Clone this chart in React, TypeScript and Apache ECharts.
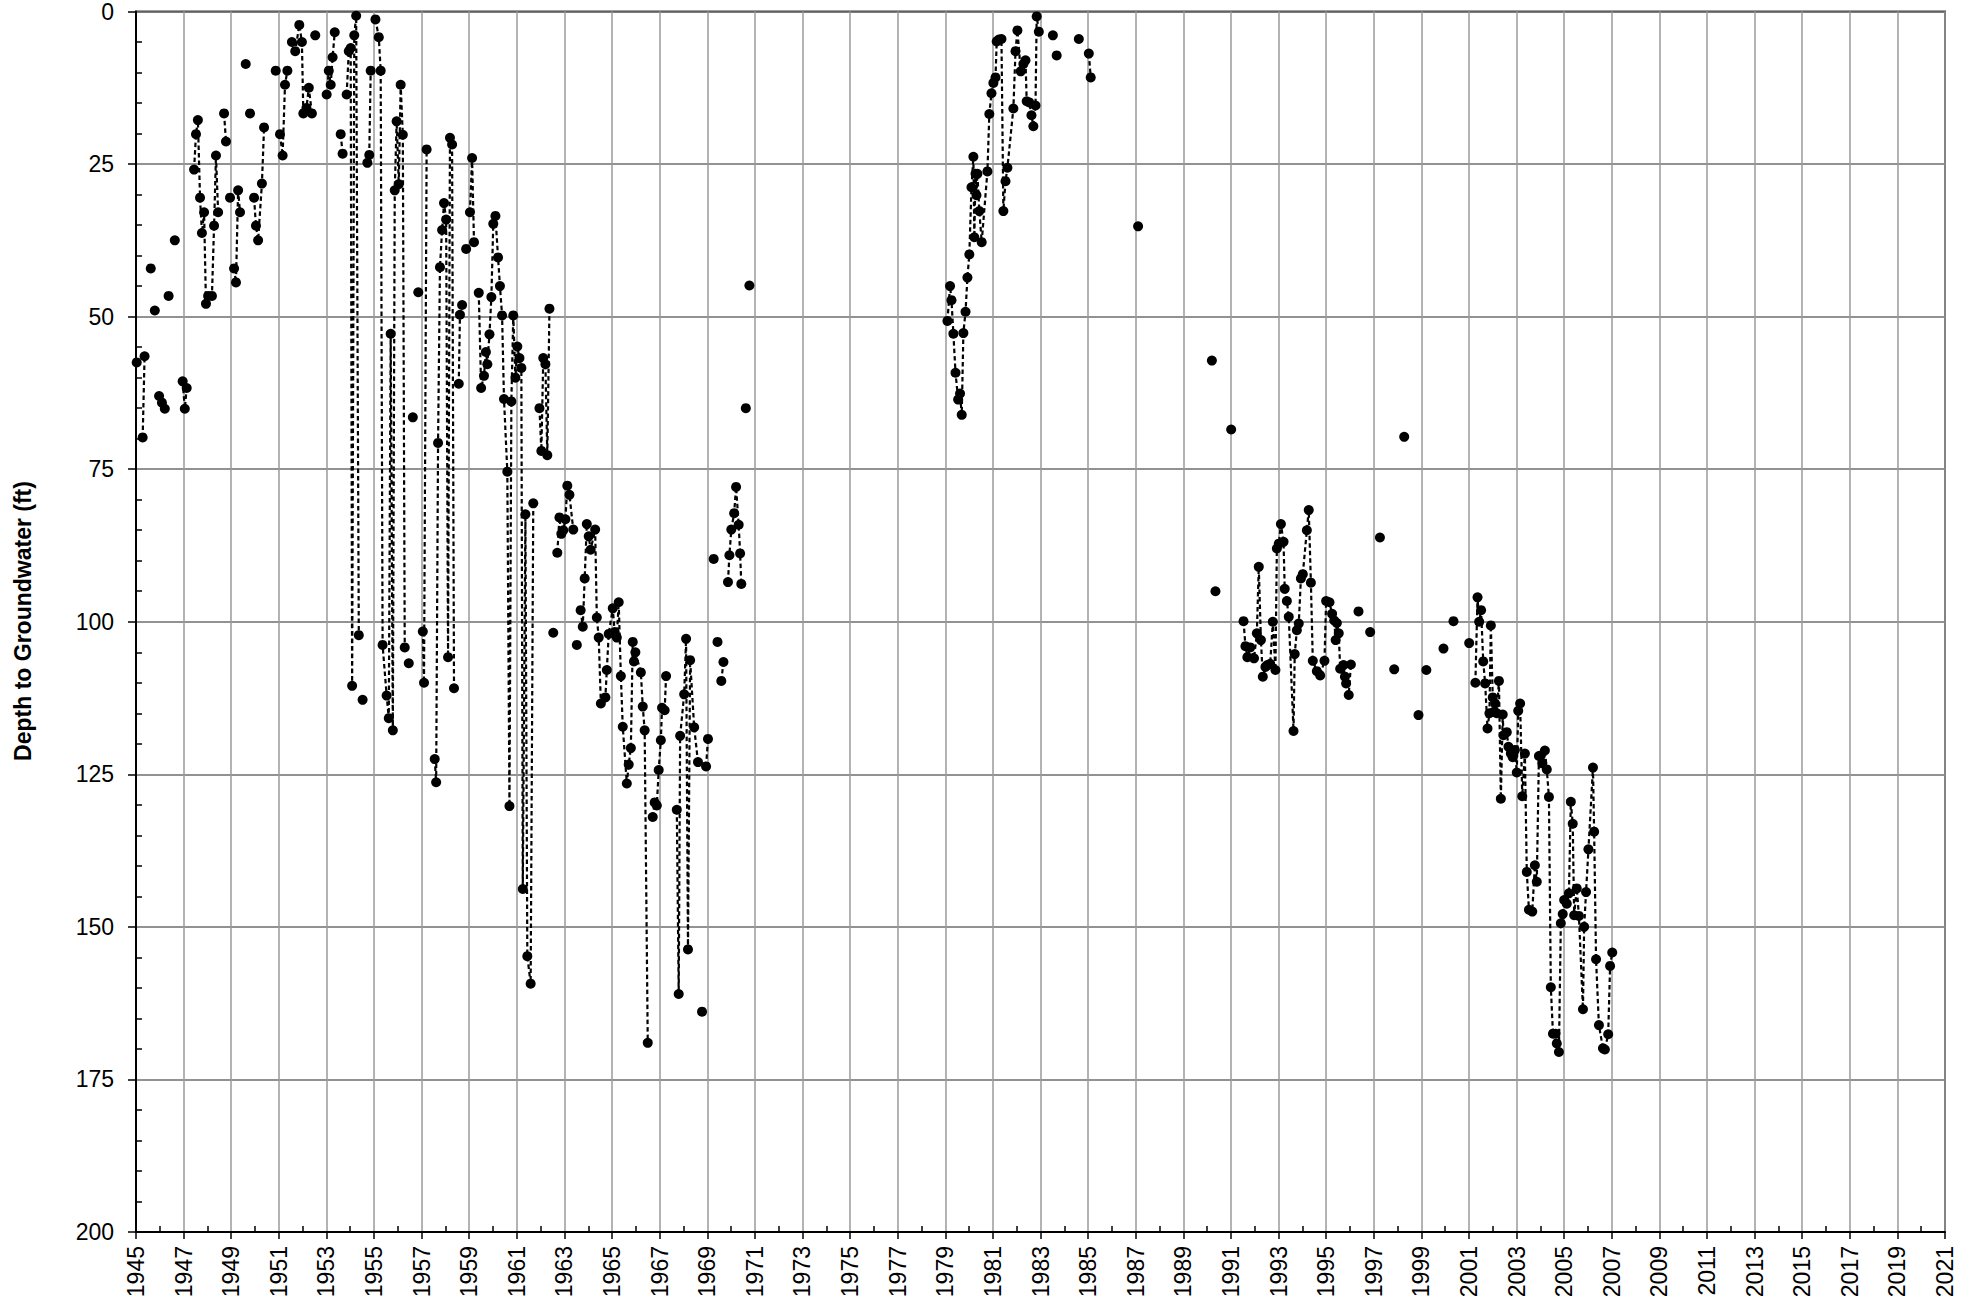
import React, { useEffect, useRef } from "react";
import * as echarts from "echarts";

// ---- axis settings ----
const X_MIN = 1945;
const X_MAX = 2021;
const X_LABEL_STEP = 2;
const Y_MIN = 0;
const Y_MAX = 200;
const Y_STEP = 25;
const Y_TITLE = "Depth to Groundwater (ft)";

// ---- data: [decimal year, depth to groundwater (ft)]; null = break in the dashed line ----
type P = [number, number] | null;

const record1945to1971: P[] = [
  [1945.03, 57.5], null,
  [1945.28, 69.8], [1945.36, 56.5], null,
  [1945.62, 42.1], null,
  [1945.79, 49.0], null,
  [1945.97, 63.0], [1946.09, 64.1], [1946.21, 65.1], null,
  [1946.37, 46.6], null,
  [1946.63, 37.5], null,
  [1946.96, 60.6], [1947.05, 65.1], [1947.13, 61.7], null,
  [1947.44, 25.9], [1947.52, 20.1], [1947.6, 17.8], [1947.69, 30.5], [1947.77, 36.3], [1947.86, 32.9], [1947.94, 47.9], [1948.03, 46.6], [1948.19, 46.6], [1948.28, 35.1], [1948.36, 23.6], [1948.45, 32.9], null,
  [1948.7, 16.7], [1948.78, 21.3], null,
  [1948.95, 30.5], null,
  [1949.12, 42.1], [1949.2, 44.4], [1949.29, 29.3], [1949.37, 32.9], null,
  [1949.61, 8.6], null,
  [1949.79, 16.7], null,
  [1949.96, 30.5], [1950.04, 35.1], [1950.13, 37.5], [1950.29, 28.2], [1950.38, 19.0], null,
  [1950.87, 9.7], null,
  [1951.05, 20.1], [1951.16, 23.6], [1951.26, 12.0], [1951.36, 9.7], null,
  [1951.55, 5.0], [1951.69, 6.5], [1951.86, 2.2], [1951.97, 5.0], [1952.03, 16.7], [1952.16, 15.8], [1952.26, 12.5], [1952.39, 16.7], null,
  [1952.53, 3.9], null,
  [1953.01, 13.6], [1953.1, 9.7], [1953.18, 12.0], [1953.26, 7.5], [1953.35, 3.4], null,
  [1953.6, 20.1], [1953.68, 23.3], null,
  [1953.85, 13.6], [1953.94, 6.5], [1954.02, 6.0], [1954.08, 110.5], [1954.17, 3.9], [1954.25, 0.7], [1954.36, 102.2], null,
  [1954.52, 112.8], null,
  [1954.72, 24.8], [1954.8, 23.5], [1954.86, 9.7], null,
  [1955.06, 1.3], [1955.2, 4.2], [1955.28, 9.7], [1955.36, 103.8], [1955.53, 112.1], [1955.62, 115.8], [1955.7, 52.8], [1955.79, 117.8], [1955.87, 29.3], [1955.95, 18.0], [1956.04, 28.3], [1956.12, 12.0], [1956.21, 20.2], [1956.29, 104.2], null,
  [1956.46, 106.8], null,
  [1956.63, 66.5], null,
  [1956.86, 46.0], null,
  [1957.05, 101.6], [1957.1, 110.0], [1957.21, 22.6], null,
  [1957.55, 122.5], [1957.61, 126.3], [1957.69, 70.7], [1957.77, 41.9], [1957.86, 35.8], [1957.94, 31.4], [1958.03, 34.1], [1958.11, 105.8], [1958.19, 20.7], [1958.28, 21.8], [1958.36, 110.9], null,
  [1958.56, 61.0], [1958.61, 49.7], [1958.7, 48.1], null,
  [1958.87, 38.9], null,
  [1959.03, 32.9], [1959.12, 24.0], [1959.2, 37.8], null,
  [1959.4, 46.1], [1959.5, 61.7], [1959.62, 59.7], [1959.7, 55.8], [1959.76, 57.8], [1959.85, 52.9], [1959.93, 46.8], [1960.01, 34.8], [1960.1, 33.5], [1960.21, 40.3], [1960.29, 45.0], [1960.38, 49.8], [1960.46, 63.5], [1960.6, 75.4], [1960.69, 130.2], [1960.77, 63.9], [1960.85, 49.8], [1960.94, 60.0], [1961.02, 54.9], [1961.11, 56.8], [1961.19, 58.4], [1961.25, 143.8], [1961.36, 82.4], [1961.44, 154.8], [1961.58, 159.3], [1961.69, 80.6], null,
  [1961.95, 65.0], [1962.03, 72.0], [1962.11, 56.8], [1962.2, 57.8], [1962.28, 72.7], [1962.37, 48.7], null,
  [1962.53, 101.8], null,
  [1962.7, 88.7], [1962.79, 82.9], [1962.87, 85.6], [1962.95, 85.0], [1963.04, 83.2], [1963.12, 77.7], [1963.21, 79.2], [1963.37, 84.9], null,
  [1963.52, 103.8], null,
  [1963.68, 98.1], [1963.77, 100.8], [1963.85, 92.9], [1963.94, 84.0], [1964.02, 86.0], [1964.1, 88.2], [1964.29, 84.9], [1964.36, 99.3], [1964.44, 102.6], [1964.53, 113.4], [1964.72, 112.4], [1964.78, 107.9], [1964.86, 102.0], [1965.03, 97.8], [1965.11, 101.7], [1965.2, 102.6], [1965.28, 96.8], [1965.37, 108.9], [1965.45, 117.2], [1965.62, 126.5], [1965.7, 123.4], [1965.79, 120.7], [1965.87, 103.3], [1965.92, 106.5], [1965.98, 105.0], [1966.21, 108.3], [1966.29, 113.9], [1966.37, 117.8], [1966.5, 169.0], null,
  [1966.71, 132.0], [1966.79, 129.6], [1966.88, 130.1], [1966.96, 124.3], [1967.05, 119.4], [1967.1, 114.1], [1967.21, 114.5], [1967.27, 108.9], null,
  [1967.72, 130.8], [1967.8, 161.0], [1967.86, 118.7], [1968.03, 111.9], [1968.11, 102.8], [1968.19, 153.7], [1968.28, 106.3], [1968.45, 117.3], [1968.61, 123.0], null,
  [1968.78, 163.9], null,
  [1968.95, 123.7], [1969.03, 119.2], null,
  [1969.27, 89.7], null,
  [1969.43, 103.3], null,
  [1969.59, 109.7], [1969.68, 106.6], null,
  [1969.87, 93.5], [1969.93, 89.1], [1970.01, 84.9], [1970.13, 82.2], [1970.21, 77.9], [1970.32, 84.1], [1970.38, 88.8], [1970.43, 93.8], null,
  [1970.62, 65.0], null,
  [1970.77, 44.9],
];

const record1979to1987: P[] = [
  [1979.09, 50.7], [1979.2, 45.0], [1979.26, 47.3], [1979.34, 52.8], [1979.43, 59.2], [1979.54, 63.6], [1979.62, 62.6], [1979.69, 66.1], [1979.76, 52.7], [1979.85, 49.2], [1979.93, 43.6], [1980.01, 39.8], [1980.1, 28.8], [1980.18, 23.8], [1980.22, 37.0], [1980.27, 26.6], [1980.31, 30.1], [1980.35, 26.6], [1980.43, 32.7], [1980.53, 37.8], [1980.77, 26.2], [1980.85, 16.8], [1980.94, 13.4], [1981.02, 11.7], [1981.11, 10.8], [1981.16, 4.9], [1981.25, 4.6], [1981.36, 4.5], [1981.44, 32.7], [1981.53, 27.8], [1981.61, 25.6], [1981.86, 15.9], [1981.95, 6.5], [1982.03, 3.1], [1982.17, 9.8], [1982.28, 8.6], [1982.37, 8.0], [1982.42, 14.7], [1982.53, 14.9], [1982.62, 17.0], [1982.7, 18.8], [1982.79, 15.4], [1982.84, 0.8], [1982.93, 3.3], null,
  [1983.52, 3.9], null,
  [1983.68, 7.2], null,
  [1984.61, 4.5], null,
  [1985.03, 6.9], [1985.11, 10.8], null,
  [1987.1, 35.2],
];

const record1990to2007: P[] = [
  [1990.2, 57.2], null,
  [1990.35, 95.0], null,
  [1991.01, 68.5], null,
  [1991.53, 99.9], [1991.61, 104.0], [1991.69, 105.8], [1991.81, 104.2], [1991.97, 106.0], [1992.09, 101.9], [1992.17, 91.0], [1992.26, 103.0], [1992.34, 109.0], [1992.45, 107.4], [1992.53, 107.1], [1992.65, 106.9], [1992.76, 100.0], [1992.87, 107.9], [1992.93, 88.0], [1993.01, 87.2], [1993.1, 84.0], [1993.21, 86.9], [1993.26, 94.6], [1993.35, 96.6], [1993.43, 99.2], [1993.63, 117.9], [1993.68, 105.3], [1993.77, 101.4], [1993.85, 100.3], [1993.94, 92.9], [1994.02, 92.2], [1994.19, 85.0], [1994.27, 81.7], [1994.36, 93.6], [1994.44, 106.4], [1994.61, 108.1], [1994.75, 108.8], [1994.93, 106.4], [1995.0, 96.6], [1995.14, 96.8], [1995.25, 98.7], [1995.34, 99.8], [1995.4, 103.0], [1995.45, 100.2], [1995.53, 101.9], [1995.59, 107.7], [1995.73, 107.1], [1995.79, 109.0], [1995.84, 110.1], [1995.95, 112.0], [1996.04, 107.0], null,
  [1996.36, 98.3], null,
  [1996.85, 101.7], null,
  [1997.26, 86.2], null,
  [1997.86, 107.8], null,
  [1998.28, 69.7], null,
  [1998.88, 115.3], null,
  [1999.21, 107.9], null,
  [1999.93, 104.4], null,
  [2000.35, 99.9], null,
  [2001.01, 103.5], null,
  [2001.27, 110.0], [2001.36, 96.0], [2001.43, 100.0], [2001.51, 98.1], [2001.6, 106.5], [2001.68, 110.1], [2001.78, 117.5], [2001.86, 115.0], [2001.92, 100.6], [2002.0, 112.4], [2002.03, 114.8], [2002.1, 113.4], [2002.17, 115.0], [2002.26, 109.7], [2002.34, 129.0], [2002.42, 115.2], [2002.45, 118.6], [2002.59, 118.1], [2002.66, 120.5], [2002.76, 121.6], [2002.84, 122.2], [2002.93, 121.0], [2003.01, 124.7], [2003.07, 114.6], [2003.15, 113.4], [2003.24, 128.6], [2003.35, 121.6], [2003.43, 141.0], [2003.52, 147.2], [2003.66, 147.5], [2003.77, 139.9], [2003.85, 142.6], [2003.94, 122.0], [2004.02, 121.9], [2004.08, 123.2], [2004.19, 121.1], [2004.27, 124.2], [2004.36, 128.7], [2004.44, 159.9], [2004.53, 167.5], [2004.64, 167.5], [2004.69, 169.1], [2004.78, 170.5], [2004.86, 149.4], [2004.94, 147.9], [2005.0, 145.6], [2005.11, 146.2], [2005.2, 144.5], [2005.28, 129.5], [2005.36, 133.1], [2005.42, 148.1], [2005.53, 143.7], [2005.62, 148.2], [2005.79, 163.5], [2005.84, 150.0], [2005.92, 144.3], [2006.02, 137.3], [2006.21, 123.9], [2006.26, 134.4], [2006.34, 155.3], [2006.46, 166.1], [2006.63, 169.9], [2006.71, 170.1], [2006.85, 167.6], [2006.93, 156.4], [2007.02, 154.2],
];

function buildSeriesData(...lists: P[][]): (number | string)[][] {
  const out: (number | string)[][] = [];
  let lastX = X_MIN;
  lists.forEach((list, li) => {
    if (li > 0) out.push([lastX, "-"]);
    list.forEach((p) => {
      if (p === null) {
        out.push([lastX, "-"]);
      } else {
        out.push([p[0], p[1]]);
        lastX = p[0];
      }
    });
  });
  return out;
}

const FONT = '"Liberation Sans", Arial, sans-serif';

export default function App() {
  const ref = useRef<HTMLDivElement>(null);

  useEffect(() => {
    document.body.style.margin = "0";
    document.body.style.overflow = "hidden";
    if (!ref.current) return;
    const chart = echarts.init(ref.current, undefined, { renderer: "svg" });

    const option: any = {
      animation: false,
      backgroundColor: "#ffffff",
      grid: {
        left: 136,
        right: 25,
        top: 11,
        bottom: 75,
        show: true,
        borderColor: "#404040",
        borderWidth: 2,
        backgroundColor: "transparent",
      },
      xAxis: [
        {
          type: "value",
          min: X_MIN,
          max: X_MAX,
          interval: X_LABEL_STEP,
          position: "bottom",
          axisLine: { show: true, onZero: false, lineStyle: { color: "#000", width: 2 } },
          axisTick: { show: true, inside: false, length: 7, lineStyle: { color: "#000", width: 1.5 } },
          axisLabel: {
            show: true,
            rotate: 90,
            margin: 14,
            color: "#000",
            fontSize: 23,
            fontFamily: FONT,
            formatter: (v: number) => String(Math.round(v)),
          },
          splitLine: { show: true, lineStyle: { color: "#9a9a9a", width: 1.5 } },
        },
        {
          type: "value",
          min: X_MIN,
          max: X_MAX,
          interval: X_LABEL_STEP,
          position: "bottom",
          axisLine: { show: false, onZero: false },
          axisTick: { show: false, inside: true },
          minorTick: { show: true, splitNumber: 2, length: 6, lineStyle: { color: "#000", width: 1.5 } },
          axisLabel: { show: false },
          splitLine: { show: false },
        },
      ],
      yAxis: [
        {
          type: "value",
          inverse: true,
          min: Y_MIN,
          max: Y_MAX,
          interval: Y_STEP,
          position: "left",
          axisLine: { show: true, onZero: false, lineStyle: { color: "#000", width: 2 } },
          axisTick: { show: true, inside: false, length: 8, lineStyle: { color: "#000", width: 1.5 } },
          axisLabel: {
            show: true,
            margin: 22,
            color: "#000",
            fontSize: 23,
            fontFamily: FONT,
          },
          splitLine: { show: true, lineStyle: { color: "#6e6e6e", width: 1.5 } },
        },
        {
          type: "value",
          inverse: true,
          min: Y_MIN,
          max: Y_MAX,
          interval: Y_STEP,
          position: "left",
          axisLine: { show: false, onZero: false },
          axisTick: { show: false, inside: true },
          minorTick: { show: true, splitNumber: 5, length: 6, lineStyle: { color: "#000", width: 1.5 } },
          axisLabel: { show: false },
          splitLine: { show: false },
        },
      ],
      graphic: [
        {
          type: "text",
          x: 23,
          y: 621,
          rotation: Math.PI / 2,
          style: {
            text: Y_TITLE,
            fill: "#000",
            fontSize: 23,
            fontWeight: "bold",
            fontFamily: FONT,
            align: "center",
            verticalAlign: "middle",
          },
        },
      ],
      series: [
        {
          type: "line",
          xAxisIndex: 0,
          yAxisIndex: 0,
          data: buildSeriesData(record1945to1971, record1979to1987, record1990to2007),
          connectNulls: false,
          showSymbol: true,
          showAllSymbol: true,
          symbol: "circle",
          symbolSize: 10,
          itemStyle: { color: "#000" },
          lineStyle: { color: "#000", width: 2.2, type: [4.5, 3] },
          emphasis: { disabled: true },
          z: 5,
        },
      ],
    };

    chart.setOption(option);
    return () => {
      chart.dispose();
    };
  }, []);

  return <div ref={ref} style={{ width: 1970, height: 1307 }} />;
}
